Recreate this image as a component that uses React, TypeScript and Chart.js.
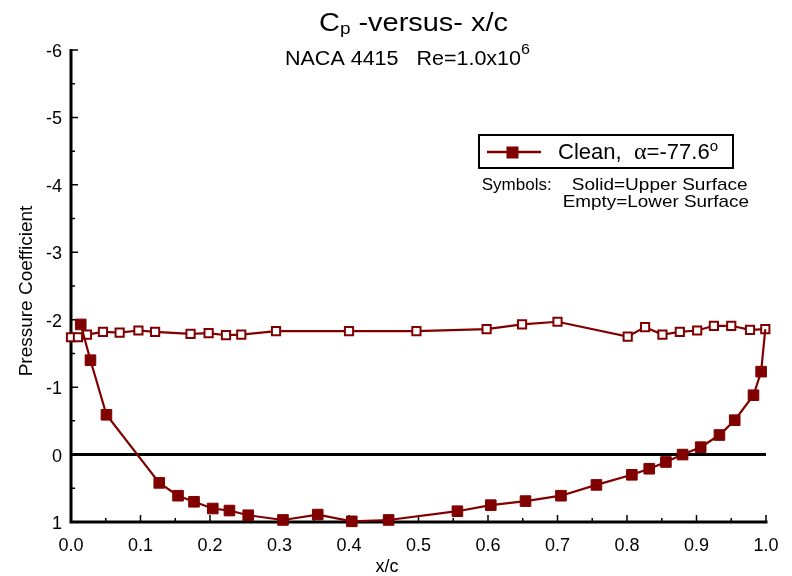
import React, { useEffect, useRef } from "react";
import { Chart, registerables } from "chart.js";

Chart.register(...registerables);

// Upper surface (solid symbols)
const upperX = [0.014, 0.028, 0.051, 0.127, 0.154, 0.177, 0.204, 0.228, 0.255, 0.305, 0.355, 0.404, 0.457, 0.556, 0.604, 0.654, 0.705, 0.756, 0.807, 0.832, 0.856, 0.88, 0.906, 0.933, 0.955, 0.982, 0.993];
const upperCp = [-1.93, -1.4, -0.59, 0.42, 0.61, 0.7, 0.8, 0.83, 0.9, 0.97, 0.89, 0.99, 0.97, 0.84, 0.75, 0.69, 0.61, 0.45, 0.3, 0.21, 0.11, 0.0, -0.11, -0.29, -0.51, -0.88, -1.23];

// Lower surface (empty symbols)
const lowerX = [0.0, 0.01, 0.023, 0.046, 0.07, 0.097, 0.121, 0.172, 0.198, 0.223, 0.245, 0.295, 0.4, 0.497, 0.598, 0.649, 0.7, 0.801, 0.826, 0.851, 0.876, 0.901, 0.925, 0.95, 0.977, 0.999];
const lowerCp = [-1.74, -1.74, -1.78, -1.82, -1.81, -1.84, -1.82, -1.79, -1.8, -1.77, -1.78, -1.83, -1.83, -1.83, -1.86, -1.93, -1.97, -1.75, -1.89, -1.78, -1.82, -1.84, -1.91, -1.91, -1.85, -1.86];

const xTicks = [0, 0.1, 0.2, 0.3, 0.4, 0.5, 0.6, 0.7, 0.8, 0.9, 1.0];
const xTickLabels = ["0.0", "0.1", "0.2", "0.3", "0.4", "0.5", "0.6", "0.7", "0.8", "0.9", "1.0"];
const xMinorTicks = [0.05, 0.15, 0.25, 0.35, 0.45, 0.55, 0.65, 0.75, 0.85, 0.95];
const yTicks = [-6, -5, -4, -3, -2, -1, 0, 1];
const yTickLabels = ["-6", "-5", "-4", "-3", "-2", "-1", "0", "1"];
const yMinorTicks = [-5.5, -4.5, -3.5, -2.5, -1.5, -0.5, 0.5];

const COLOR = "#800000";
const SANS = '"Liberation Sans", Arial, Helvetica, sans-serif';
const SERIF = '"Liberation Serif", "DejaVu Serif", serif';

type Run = { t: string; size: number; dy?: number; family?: string; gap?: number };

function put(ctx: CanvasRenderingContext2D, s: string, x: number, y: number, size: number, align: CanvasTextAlign = "left", baseline: CanvasTextBaseline = "alphabetic", family: string = SANS): number {
  ctx.font = `${size}px ${family}`;
  ctx.textAlign = align;
  ctx.textBaseline = baseline;
  ctx.fillStyle = "#000";
  ctx.fillText(s, x, y);
  return ctx.measureText(s).width;
}

// draw a sequence of text runs fitted between left and right on a baseline
function runs(ctx: CanvasRenderingContext2D, list: Run[], left: number, right: number, base: number) {
  let total = 0;
  list.forEach((r) => {
    ctx.font = `${r.size}px ${r.family || SANS}`;
    total += ctx.measureText(r.t).width + (r.gap || 0);
  });
  const s = (right - left) / total;
  ctx.save();
  ctx.translate(left, base);
  ctx.scale(s, 1);
  let x = 0;
  list.forEach((r) => {
    x += put(ctx, r.t, x, r.dy || 0, r.size, "left", "alphabetic", r.family || SANS) + (r.gap || 0);
  });
  ctx.restore();
}

const decorPlugin = {
  id: "decor",
  beforeDatasetsDraw(chart: any) {
    const ctx: CanvasRenderingContext2D = chart.ctx;
    const xs = chart.scales.x;
    const ys = chart.scales.y;
    const x0 = xs.getPixelForValue(0);
    const x1 = xs.getPixelForValue(1);
    const yTop = ys.getPixelForValue(-6);
    const yBot = ys.getPixelForValue(1);
    ctx.save();
    ctx.strokeStyle = "#000";
    ctx.lineWidth = 3;
    ctx.lineCap = "butt";
    ctx.beginPath();
    ctx.moveTo(x0, yTop - 1);
    ctx.lineTo(x0, yBot + 1.5);
    ctx.moveTo(x0 - 1.5, yBot);
    ctx.lineTo(x1 + 1.5, yBot);
    ctx.stroke();
    ctx.lineWidth = 1.5;
    ctx.beginPath();
    xTicks.forEach((v) => {
      const p = xs.getPixelForValue(v);
      ctx.moveTo(p, yBot);
      ctx.lineTo(p, yBot - 7);
    });
    xMinorTicks.forEach((v) => {
      const p = xs.getPixelForValue(v);
      ctx.moveTo(p, yBot);
      ctx.lineTo(p, yBot - 4);
    });
    yTicks.forEach((v) => {
      const p = ys.getPixelForValue(v);
      ctx.moveTo(x0, p);
      ctx.lineTo(x0 + 7, p);
    });
    yMinorTicks.forEach((v) => {
      const p = ys.getPixelForValue(v);
      ctx.moveTo(x0, p);
      ctx.lineTo(x0 + 4, p);
    });
    ctx.stroke();

    // tick labels
    xTicks.forEach((v, i) => {
      put(ctx, xTickLabels[i], xs.getPixelForValue(v), 546, 18, "center", "middle");
    });
    yTicks.forEach((v, i) => {
      put(ctx, yTickLabels[i], 62, ys.getPixelForValue(v) + 2, 18, "right", "middle");
    });

    // axis titles
    put(ctx, "x/c", 387, 567, 18, "center", "middle");
    ctx.save();
    ctx.translate(27, 291);
    ctx.rotate(-Math.PI / 2);
    put(ctx, "Pressure Coefficient", 0, 0, 19, "center", "middle");
    ctx.restore();

    // title
    runs(ctx, [
      { t: "C", size: 26 },
      { t: "p", size: 17, dy: 3.5 },
      { t: " -versus- x/c", size: 26 },
    ], 319, 508, 30.5);

    // subtitle
    runs(ctx, [
      { t: "NACA 4415", size: 20 },
      { t: "   ", size: 20 },
      { t: "Re=1.0x10", size: 20 },
      { t: "6", size: 15, dy: -10.5 },
    ], 285, 530, 64.5);

    // legend box
    ctx.lineWidth = 2;
    ctx.strokeStyle = "#000";
    ctx.fillStyle = "#fff";
    ctx.fillRect(479, 135, 254, 33);
    ctx.strokeRect(479, 135, 254, 33);
    ctx.strokeStyle = COLOR;
    ctx.lineWidth = 2.5;
    ctx.beginPath();
    ctx.moveTo(487, 152);
    ctx.lineTo(541, 152);
    ctx.stroke();
    ctx.fillStyle = COLOR;
    ctx.fillRect(506.5, 146.5, 12, 12);
    runs(ctx, [
      { t: "Clean,", size: 22 },
      { t: "  ", size: 22 },
      { t: "\u03b1", size: 24, family: SERIF },
      { t: "=-77.6", size: 22 },
      { t: "o", size: 15, dy: -8, gap: 0 },
    ], 558, 718, 158.5);

    runs(ctx, [{ t: "Symbols:", size: 17 }], 481.7, 481.7 + 70, 190);
    runs(ctx, [{ t: "Solid=Upper Surface", size: 17 }], 571.7, 747.7, 190);
    runs(ctx, [{ t: "Empty=Lower Surface", size: 17 }], 562.7, 749, 206.7);
    ctx.restore();
  },
};

export default function App() {
  const ref = useRef<HTMLCanvasElement | null>(null);
  useEffect(() => {
    if (!ref.current) return;
    const upperData = upperX.map((x, i) => ({ x, y: upperCp[i] }));
    // trailing-edge closure back to the last lower-surface point (no marker)
    upperData.push({ x: lowerX[lowerX.length - 1], y: lowerCp[lowerCp.length - 1] });
    const upperRadius = upperData.map((_, i) => (i === upperData.length - 1 ? 0 : 7.5));
    const lowerData = lowerX.map((x, i) => ({ x, y: lowerCp[i] }));
    const chart = new Chart(ref.current, {
      type: "scatter",
      data: {
        datasets: [
          {
            label: "zero",
            data: [{ x: 0, y: 0 }, { x: 1, y: 0 }],
            showLine: true,
            borderColor: "#000",
            borderWidth: 3,
            pointRadius: 0,
            order: 3,
          } as any,
          {
            label: "Lower",
            data: lowerData,
            showLine: true,
            borderColor: COLOR,
            borderWidth: 2.2,
            pointStyle: "rect",
            pointRadius: 5.8,
            pointBackgroundColor: "#fff",
            pointBorderColor: COLOR,
            pointBorderWidth: 2,
            clip: false,
            order: 2,
          } as any,
          {
            label: "Upper",
            data: upperData,
            showLine: true,
            borderColor: COLOR,
            borderWidth: 2.2,
            pointStyle: "rect",
            pointRadius: upperRadius,
            pointBackgroundColor: COLOR,
            pointBorderColor: COLOR,
            pointBorderWidth: 1,
            clip: false,
            order: 1,
          } as any,
        ],
      },
      options: {
        animation: false,
        responsive: false,
        devicePixelRatio: 1,
        events: [],
        layout: { padding: { left: 71, right: 26, top: 50, bottom: 54 } },
        plugins: { legend: { display: false }, tooltip: { enabled: false }, title: { display: false } },
        scales: {
          x: { type: "linear", min: 0, max: 1, display: false },
          y: { type: "linear", min: -6, max: 1, reverse: true, display: false },
        },
      },
      plugins: [decorPlugin],
    });
    return () => chart.destroy();
  }, []);
  return (
    <div style={{ position: "absolute", left: 0, top: 0, width: 792, height: 576, background: "#fff" }}>
      <canvas ref={ref} width={792} height={576} style={{ width: 792, height: 576 }} />
    </div>
  );
}
